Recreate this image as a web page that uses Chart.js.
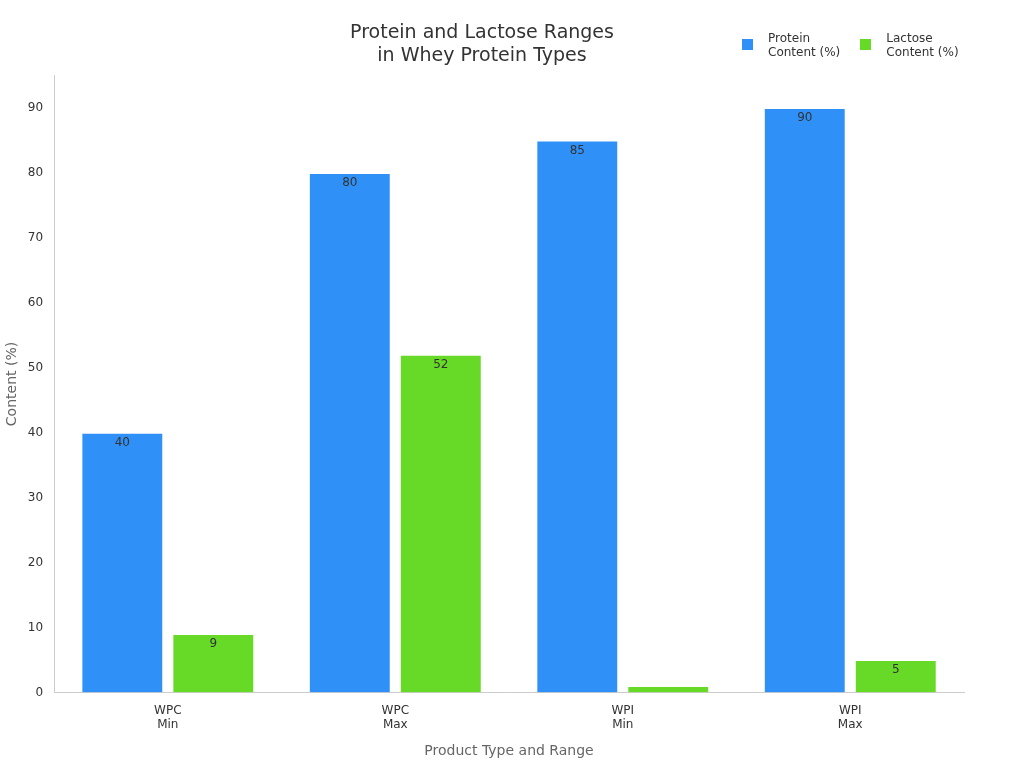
<!DOCTYPE html>
<html>
<head>
<meta charset="utf-8">
<script src="https://cdn.jsdelivr.net/npm/chart.js@4"></script>
<style>
  body { margin: 0; background: #fff; font-family: "DejaVu Sans", sans-serif; }
  .wrap { position: relative; width: 1024px; height: 768px; }
  .legend { position: absolute; top: 31px; left: 742px; display: flex; gap: 20px; font-size: 12px; color: #333; }
  .legend div { display: flex; align-items: flex-start; }
  .legend span.box { width: 11px; height: 11px; margin: 8px 15px 0 0; display: inline-block; }
</style>
</head>
<body>
<div class="wrap">
  <canvas class="chart" width="1024" height="768"></canvas>
  <div class="legend">
    <div><span class="box" style="background:#2F91F7"></span><span>Protein<br>Content (%)</span></div>
    <div><span class="box" style="background:#66DA26"></span><span>Lactose<br>Content (%)</span></div>
  </div>
</div>
<script>
  const categories = [['WPC', 'Min'], ['WPC', 'Max'], ['WPI', 'Min'], ['WPI', 'Max']]
  const proteinValues = [40, 80, 85, 90]
  const lactoseValues = [9, 52, 1, 5]
  const yTicks = [0, 10, 20, 30, 40, 50, 60, 70, 80, 90]

  // labels drawn just inside the top of each bar
  const barLabels = {
    id: 'barLabels',
    afterDatasetsDraw(chart) {
      const ctx = chart.ctx
      ctx.save()
      ctx.font = '12px "DejaVu Sans"'
      ctx.fillStyle = '#333'
      ctx.textAlign = 'center'
      ctx.textBaseline = 'top'
      chart.data.datasets.forEach((ds, i) => {
        chart.getDatasetMeta(i).data.forEach((bar, j) => {
          if (ds.data[j] < 2) return
          ctx.fillText(ds.data[j], bar.x, bar.y + 4)
        })
      })
      ctx.restore()
    }
  }

  new Chart(document.querySelector('.chart'), {
    type: 'bar',
    data: {
      labels: categories,
      datasets: [
        { label: 'Protein Content (%)', data: proteinValues, backgroundColor: '#2F91F7', borderColor: '#fff', borderWidth: 1 },
        { label: 'Lactose Content (%)', data: lactoseValues, backgroundColor: '#66DA26', borderColor: '#fff', borderWidth: 1 }
      ]
    },
    options: {
      responsive: false,
      animation: false,
      layout: { padding: { left: 0, right: 60, top: 0, bottom: 4 } },
      plugins: {
        legend: { display: false },
        tooltip: { enabled: false },
        title: {
          display: true,
          text: ['Protein and Lactose Ranges', 'in Whey Protein Types'],
          font: { size: 19, family: 'DejaVu Sans', weight: 'normal' },
          color: '#333',
          padding: { top: 22, bottom: 8 }
        }
      },
      scales: {
        x: {
          categoryPercentage: 0.8,
          barPercentage: 1,
          grid: { display: false },
          border: { color: '#ccc' },
          ticks: { color: '#333', font: { size: 12, family: 'DejaVu Sans' } },
          title: { display: true, text: 'Product Type and Range', color: '#666', font: { size: 14, family: 'DejaVu Sans' }, padding: { top: 8 } }
        },
        y: {
          min: 0,
          max: 95,
          afterBuildTicks: (axis) => { axis.ticks = yTicks.map(v => ({ value: v })) },
          grid: { display: false, drawTicks: true },
          border: { color: '#ccc' },
          ticks: { color: '#333', font: { size: 12, family: 'DejaVu Sans' } },
          title: { display: true, text: 'Content (%)', color: '#666', font: { size: 14, family: 'DejaVu Sans' } }
        }
      }
    },
    plugins: [barLabels]
  })
</script>
</body>
</html>
